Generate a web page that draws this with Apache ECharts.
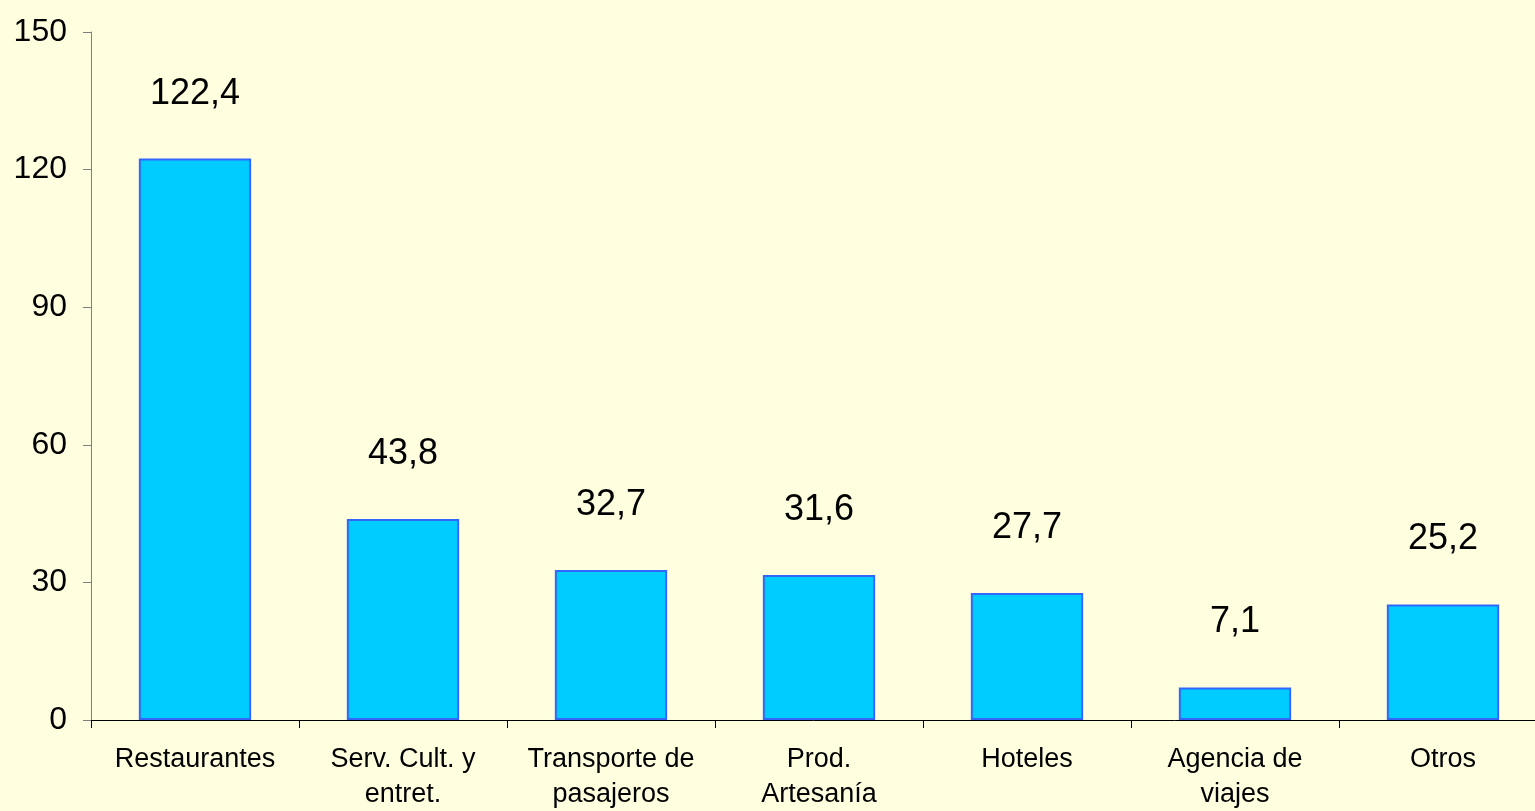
<!DOCTYPE html>
<html>
<head>
<meta charset="utf-8">
<script src="https://cdn.jsdelivr.net/npm/echarts@6/dist/echarts.min.js"></script>
<style>
html,body{margin:0;padding:0;background:#FFFFE0;}
#c{width:1535px;height:811px;}
</style>
</head>
<body>
<div id="c"></div>
<script>
const categories = ["Restaurantes", "Serv. Cult. y\nentret.", "Transporte de\npasajeros", "Prod.\nArtesanía", "Hoteles", "Agencia de\nviajes", "Otros"];
const values = [122.4, 43.8, 32.7, 31.6, 27.7, 7.1, 25.2];
const yTicks = [0, 30, 60, 90, 120, 150];

const chart = echarts.init(document.getElementById('c'));
chart.setOption({
  backgroundColor: '#FFFFE0',
  animation: false,
  grid: { left: 91, top: 32, bottom: 91, right: -12, outerBoundsMode: 'none', containLabel: false },
  xAxis: {
    type: 'category',
    data: categories,
    axisLine: { lineStyle: { color: '#000', width: 1 } },
    axisTick: { show: true, length: 8, lineStyle: { color: '#000' } },
    axisLabel: { fontFamily: 'Liberation Sans', fontSize: 27, color: '#000', margin: 22, lineHeight: 35, interval: 0 }
  },
  yAxis: {
    type: 'value',
    min: yTicks[0], max: yTicks[yTicks.length - 1], interval: 30,
    axisLine: { show: true, lineStyle: { color: '#808080', width: 1 } },
    axisTick: { show: true, length: 8, lineStyle: { color: '#808080' } },
    splitLine: { show: false },
    axisLabel: { fontFamily: 'Liberation Sans', fontSize: 32, color: '#000', margin: 24 }
  },
  series: [{
    type: 'bar',
    data: values,
    barWidth: '54%',
    itemStyle: { color: '#00CCFF', borderColor: '#3366FF', borderWidth: 2 },
    label: {
      show: true, position: 'top', distance: 47,
      fontFamily: 'Liberation Sans', fontSize: 36, color: '#000',
      formatter: p => p.value.toFixed(1).replace('.', ',')
    }
  }]
});
</script>
</body>
</html>
